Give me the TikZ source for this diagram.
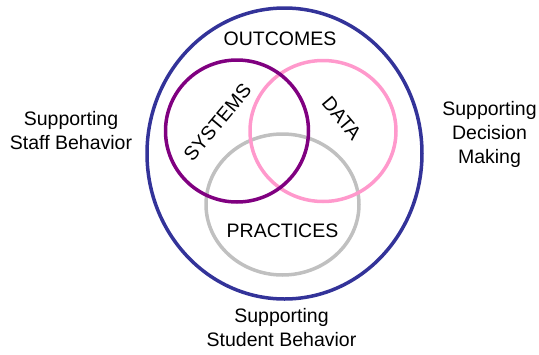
\documentclass[tikz,border=0pt]{standalone}
\usepackage{fontspec}
\setmainfont{Liberation Sans}
\definecolor{outerblue}{HTML}{333399}
\definecolor{sysPurple}{HTML}{800080}
\definecolor{dataPink}{HTML}{FF99CC}
\definecolor{pracGray}{HTML}{C0C0C0}
\tikzset{
  ring/.style={line width=3.5pt},
  lbl/.style={inner sep=0pt, font=\fontsize{19.5}{24}\selectfont, text=black},
  sidelbl/.style={lbl, align=center, anchor=north},
}
\begin{document}
\begin{tikzpicture}[x=1pt,y=-1pt]
\useasboundingbox (0,0) rectangle (539,354);
\draw[ring, outerblue] (284.5,153.5) ellipse [x radius=137.5, y radius=145.5];
\draw[ring, pracGray] (282.5,204.5) ellipse [x radius=76.5, y radius=70.5];
\draw[ring, dataPink] (323,131) ellipse [x radius=73, y radius=70.5];
\draw[ring, sysPurple] (237,131) ellipse [x radius=71.5, y radius=71];
\node[lbl] (outcomes) at (280,38.7) {OUTCOMES};
\node[lbl, rotate=50] (systems) at (217.5,122.3) {SYSTEMS};
\node[lbl, rotate=-50] (data) at (341.7,118.3) {DATA};
\node[lbl] (practices) at (282.5,231) {PRACTICES};
\node[sidelbl] (staff) at (71,111.2) {Supporting\\Staff Behavior};
\node[sidelbl] (decision) at (489.5,100.8) {Supporting\\Decision\\Making};
\node[sidelbl] (student) at (281.5,307.8) {Supporting\\Student Behavior};
\end{tikzpicture}
\end{document}
